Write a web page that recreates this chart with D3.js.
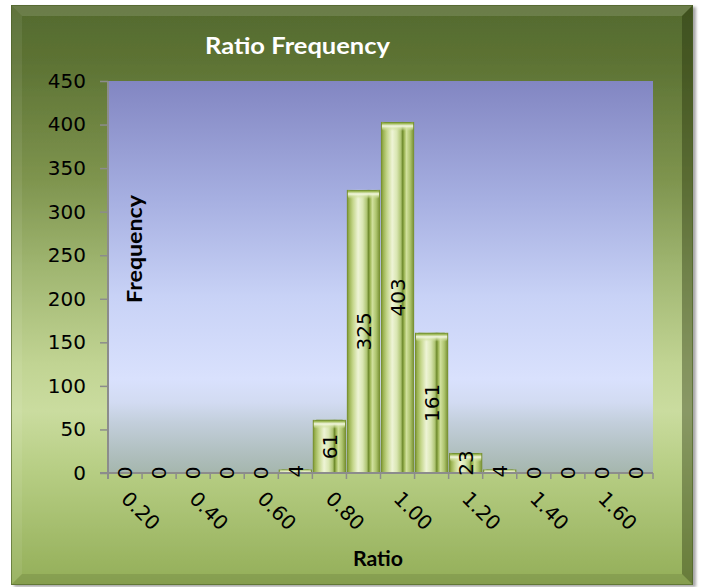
<!DOCTYPE html>
<html>
<head>
<meta charset="utf-8">
<script src="https://cdn.jsdelivr.net/npm/d3@7"></script>
<style>
  html, body { margin: 0; padding: 0; background: #ffffff; }
  svg { display: block; }
</style>
</head>
<body>
<svg id="chart" width="705" height="587"></svg>
<script>
// Ratio bins and how many items fall in each bin
const categories = ["0.20","0.30","0.40","0.50","0.60","0.70","0.80","0.90",
                    "1.00","1.10","1.20","1.30","1.40","1.50","1.60","1.70"];
const frequencies = [0, 0, 0, 0, 0, 4, 61, 325, 403, 161, 23, 4, 0, 0, 0, 0];
const xTickLabels = ["0.20","0.40","0.60","0.80","1.00","1.20","1.40","1.60"];
const yTicks = [0, 50, 100, 150, 200, 250, 300, 350, 400, 450];

const titleText = "Ratio Frequency";
const xTitle = "Ratio";
const yTitle = "Frequency";

const svg = d3.select("#chart");
const defs = svg.append("defs");

const frame = { x0: 11, y0: 5, x1: 693, y1: 585 };
const plot = { left: 108, right: 653, top: 81, bottom: 473 };

// ---- gradients ----
function vGrad(id, stops) {
  const g = defs.append("linearGradient").attr("id", id)
    .attr("x1", 0).attr("y1", 0).attr("x2", 0).attr("y2", 1);
  stops.forEach(([o, c, a]) => g.append("stop").attr("offset", o)
    .attr("stop-color", c).attr("stop-opacity", a == null ? 1 : a));
}
function hGrad(id, stops) {
  const g = defs.append("linearGradient").attr("id", id)
    .attr("x1", 0).attr("y1", 0).attr("x2", 1).attr("y2", 0);
  stops.forEach(([o, c, a]) => g.append("stop").attr("offset", o)
    .attr("stop-color", c).attr("stop-opacity", a == null ? 1 : a));
}

vGrad("frameFill", [
  [0, "#546a2e"], [0.1, "#5d7334"], [0.3, "#7e944e"], [0.45, "#9fb570"],
  [0.62, "#c1d493"], [0.7, "#cadc9f"], [0.8, "#b7ce84"], [1, "#93ae58"]
]);
vGrad("plotFill", [
  [0, "#8286c2"], [0.3, "#a6afe1"], [0.55, "#c8d2f6"], [0.76, "#d9e1fd"],
  [0.82, "#d2dbf2"], [0.87, "#c3cfdc"], [0.94, "#b2c1c2"], [1, "#a5b6ad"]
]);
hGrad("barFill", [
  [0, "#6e8628"], [0.06, "#98b04e"], [0.18, "#c4d68a"], [0.34, "#eef4d6"],
  [0.48, "#d9e6b2"], [0.6, "#aec472"], [0.655, "#6e8a2c"], [0.7, "#9db655"],
  [0.77, "#d0e09c"], [0.88, "#aec46e"], [1, "#718a2c"]
]);
vGrad("capFill", [
  [0, "#5f7e22"], [0.18, "#9fba58"], [0.45, "#f4f8e2"], [0.75, "#d3e2a4", 0.6],
  [1, "#d3e2a4", 0]
]);

const shadow = defs.append("filter").attr("id", "frameShadow")
  .attr("x", "-5%").attr("y", "-5%").attr("width", "110%").attr("height", "110%");
shadow.append("feDropShadow").attr("dx", 3).attr("dy", 2)
  .attr("stdDeviation", 1.8).attr("flood-color", "#000").attr("flood-opacity", 0.35);

// ---- chart frame with bevelled edges ----
svg.append("rect")
  .attr("x", frame.x0).attr("y", frame.y0)
  .attr("width", frame.x1 - frame.x0).attr("height", frame.y1 - frame.y0)
  .attr("fill", "url(#frameFill)")
  .attr("filter", "url(#frameShadow)");

const b = 11;
const bevel = [
  { pts: [[frame.x0, frame.y0], [frame.x1, frame.y0], [frame.x1 - b, frame.y0 + b], [frame.x0 + b, frame.y0 + b]],
    fill: "#ffffff", op: 0.13 },
  { pts: [[frame.x0, frame.y0], [frame.x0 + b, frame.y0 + b], [frame.x0 + b, frame.y1 - b], [frame.x0, frame.y1]],
    fill: "#ffffff", op: 0.07 },
  { pts: [[frame.x1, frame.y0], [frame.x1, frame.y1], [frame.x1 - b, frame.y1 - b], [frame.x1 - b, frame.y0 + b]],
    fill: "#1f2b08", op: 0.38 },
  { pts: [[frame.x0, frame.y1], [frame.x1, frame.y1], [frame.x1 - b, frame.y1 - b], [frame.x0 + b, frame.y1 - b]],
    fill: "#1f2b08", op: 0.12 }
];
svg.append("g").selectAll("polygon").data(bevel).join("polygon")
  .attr("points", d => d.pts.map(p => p.join(",")).join(" "))
  .attr("fill", d => d.fill).attr("fill-opacity", d => d.op);
svg.append("rect")
  .attr("x", frame.x0 + 0.5).attr("y", frame.y0 + 0.5)
  .attr("width", frame.x1 - frame.x0 - 1).attr("height", frame.y1 - frame.y0 - 1)
  .attr("fill", "none").attr("stroke", "#4a5e24").attr("stroke-opacity", 0.6);

// ---- scales ----
const x = d3.scaleBand().domain(categories)
  .range([plot.left, plot.right]).paddingInner(0.025).paddingOuter(0.012);
const xSlot = d3.scaleBand().domain(categories).range([plot.left, plot.right]);
const y = d3.scaleLinear().domain([0, 450]).range([plot.bottom, plot.top]);

// ---- plot area ----
svg.append("rect")
  .attr("x", plot.left).attr("y", plot.top)
  .attr("width", plot.right - plot.left).attr("height", plot.bottom - plot.top)
  .attr("fill", "url(#plotFill)");

// ---- bars ----
const bars = svg.append("g").selectAll("g.bar")
  .data(categories.map((c, i) => ({ c, v: frequencies[i] })).filter(d => d.v > 0))
  .join("g").attr("class", "bar");
bars.append("rect")
  .attr("x", d => x(d.c)).attr("width", x.bandwidth())
  .attr("y", d => y(d.v)).attr("height", d => y(0) - y(d.v))
  .attr("fill", "url(#barFill)");
bars.append("rect")
  .attr("x", d => x(d.c) + 1).attr("width", x.bandwidth() - 2)
  .attr("y", d => y(d.v))
  .attr("height", d => Math.min(9, y(0) - y(d.v)))
  .attr("rx", 3)
  .attr("fill", "url(#capFill)");

// ---- axes ----
const numFont = "'DejaVu Sans', Verdana, sans-serif";
const boldFont = "Lato, 'Open Sans', sans-serif";

const yAxis = svg.append("g")
  .attr("transform", `translate(${plot.left},0)`)
  .call(d3.axisLeft(y).tickValues(yTicks).tickSize(8).tickPadding(14).tickSizeOuter(0));
yAxis.select(".domain").attr("stroke", "#8c8c8c").attr("stroke-width", 2)
  .attr("d", `M0,${plot.top}V${plot.bottom + 6}`);
yAxis.selectAll(".tick line").attr("stroke", "#8c8c8c").attr("stroke-width", 1.5);
yAxis.selectAll(".tick text")
  .attr("font-family", numFont).attr("font-size", 20).attr("fill", "#000");

const xAxis = svg.append("g")
  .attr("transform", `translate(0,${plot.bottom})`)
  .call(d3.axisBottom(xSlot).tickValues(xTickLabels).tickSize(0).tickSizeOuter(0));
xAxis.select(".domain").attr("stroke", "#8c8c8c").attr("stroke-width", 2)
  .attr("d", `M${plot.left - 8},0H${plot.right}`);
xAxis.selectAll(".tick text")
  .attr("font-family", numFont).attr("font-size", 20).attr("fill", "#000")
  .attr("text-anchor", "start").attr("y", 0).attr("dy", 0)
  .attr("transform", "translate(-5,27) rotate(45)");

// category boundary tick marks
const bounds = categories.map(c => xSlot(c)).concat([plot.right]);
xAxis.append("g").selectAll("line").data(bounds).join("line")
  .attr("x1", d => d).attr("x2", d => d).attr("y1", 0).attr("y2", 6)
  .attr("stroke", "#8c8c8c").attr("stroke-width", 1.5);

// ---- value labels, centred on each bar ----
svg.append("g").selectAll("text")
  .data(categories.map((c, i) => ({ c, v: frequencies[i] })))
  .join("text")
  .attr("transform", d => `translate(${xSlot(d.c) + xSlot.bandwidth() / 2},${y(d.v / 2)}) rotate(-90)`)
  .attr("text-anchor", "middle").attr("dy", "0.36em")
  .attr("font-family", numFont).attr("font-size", 20).attr("fill", "#000")
  .text(d => d.v);

// ---- titles ----
svg.append("text")
  .attr("x", 297.5).attr("y", 54)
  .attr("text-anchor", "middle")
  .attr("font-family", boldFont).attr("font-weight", "bold").attr("font-size", 22)
  .attr("fill", "#ffffff")
  .attr("textLength", 185).attr("lengthAdjust", "spacingAndGlyphs")
  .text(titleText);

svg.append("text")
  .attr("x", 378).attr("y", 566)
  .attr("text-anchor", "middle")
  .attr("font-family", boldFont).attr("font-weight", "bold").attr("font-size", 20)
  .attr("fill", "#000")
  .attr("textLength", 50).attr("lengthAdjust", "spacingAndGlyphs")
  .text(xTitle);

svg.append("text")
  .attr("transform", "translate(141.5,249) rotate(-90)")
  .attr("text-anchor", "middle")
  .attr("font-family", boldFont).attr("font-weight", "bold").attr("font-size", 20)
  .attr("fill", "#000")
  .attr("textLength", 108).attr("lengthAdjust", "spacingAndGlyphs")
  .text(yTitle);
</script>
</body>
</html>
